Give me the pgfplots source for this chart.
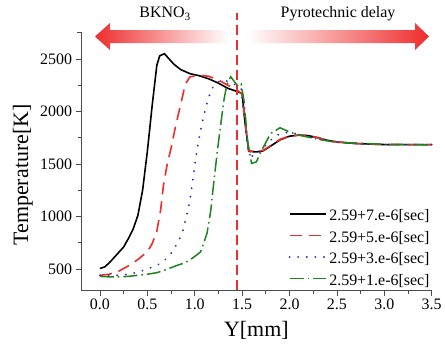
\documentclass[border=0pt]{standalone}
\usepackage{pgfplots}
\pgfplotsset{compat=1.18}
\usepackage{fontspec}
\setmainfont{Liberation Serif}
\definecolor{myred}{RGB}{238,45,45}
\definecolor{myblue}{RGB}{40,40,200}
\definecolor{mygreen}{RGB}{30,130,30}
\newcommand{\lstrut}{\rule[-4bp]{0pt}{19bp}}
\begin{document}
\begin{tikzpicture}[x=1bp,y=1bp]
\useasboundingbox (-81,-55) rectangle (364,290);
\begin{axis}[
  at={(0,0)}, anchor=south west,
  scale only axis, width=350.7bp, height=258bp,
  xmin=-0.2, xmax=3.5, ymin=300, ymax=2757,
  clip=false,
  axis x line*=bottom, axis y line*=left,
  axis line style={-, black!70, line width=0.8bp},
  xtick={0,0.5,...,3.5}, ytick={500,1000,...,2500},
  minor x tick num=1, minor y tick num=1,
  tick align=outside,
  major tick length=5.5bp, minor tick length=3.5bp,
  tick style={black!70, line width=0.8bp},
  xticklabel style={/pgf/number format/.cd,fixed,fixed zerofill,precision=1},
  /pgf/number format/assume math mode=true,
  /pgf/number format/1000 sep={},
  tick label style={font=\fontsize{16}{16}\selectfont},
  xlabel={Y[mm]}, ylabel={Temperature[K]},
  label style={font=\fontsize{22}{22}\selectfont},
  xlabel style={at={(axis description cs:0.5,-0.155)},anchor=center},
  ylabel style={at={(axis description cs:-0.166,0.446)},anchor=center},
  legend cell align=left,
  legend style={at={(1,0.005)}, anchor=south east, draw=none, fill=none,
    font=\fontsize{16}{16}\selectfont, row sep=1bp, inner sep=0pt},
  legend image code/.code={\draw[#1] (0cm,0cm) -- (1.3cm,0cm);},
]
\addplot[black, line width=1.6bp] coordinates {
(0,505) (0.05,520) (0.1,560) (0.15,610) (0.2,660) (0.25,710) (0.3,790) (0.35,880) (0.4,1010) (0.45,1250) (0.5,1620) (0.55,2050) (0.6,2440) (0.63,2530) (0.68,2550) (0.72,2510) (0.78,2450) (0.85,2400) (0.95,2360) (1.05,2340) (1.15,2310) (1.25,2270) (1.35,2220) (1.45,2190) (1.5,2170) (1.53,1900) (1.57,1620) (1.65,1615) (1.72,1625) (1.8,1670) (1.9,1730) (2.0,1765) (2.1,1775) (2.2,1770) (2.3,1750) (2.4,1725) (2.5,1710) (2.7,1695) (3.0,1685) (3.5,1685)};
\addlegendentry{\lstrut 2.59+7.e-6[sec]}
\addplot[myred, line width=1.6bp, dash pattern=on 12bp off 7bp] coordinates {
(0,440) (0.1,450) (0.2,480) (0.3,530) (0.4,590) (0.5,665) (0.55,740) (0.6,860) (0.64,1060) (0.67,1300) (0.71,1500) (0.75,1650) (0.8,1870) (0.85,2060) (0.9,2260) (0.95,2330) (1.05,2345) (1.15,2335) (1.25,2300) (1.35,2250) (1.45,2200) (1.5,2170) (1.53,1900) (1.57,1625) (1.65,1620) (1.72,1630) (1.8,1675) (1.9,1735) (2.0,1765) (2.1,1775) (2.2,1770) (2.3,1750) (2.4,1725) (2.5,1710) (2.7,1695) (3.0,1685) (3.5,1685)};
\addlegendentry{\lstrut 2.59+5.e-6[sec]}
\addplot[myblue, line width=2bp, line cap=round, dash pattern=on 0.1bp off 8.5bp] coordinates {
(0,440) (0.1,440) (0.2,440) (0.3,450) (0.4,470) (0.5,500) (0.6,535) (0.67,570) (0.75,650) (0.82,750) (0.87,850) (0.92,1030) (0.95,1160) (0.98,1350) (1.01,1550) (1.04,1720) (1.08,1900) (1.12,2050) (1.17,2200) (1.22,2270) (1.3,2300) (1.38,2280) (1.45,2240) (1.49,2220) (1.52,1950) (1.56,1650) (1.6,1575) (1.66,1590) (1.75,1680) (1.85,1770) (1.95,1800) (2.05,1790) (2.2,1760) (2.35,1730) (2.5,1710) (2.7,1695) (3.0,1685) (3.5,1685)};
\addlegendentry{\lstrut 2.59+3.e-6[sec]}
\addplot[mygreen, line width=1.5bp, dash pattern=on 14bp off 4bp on 1.5bp off 4bp] coordinates {
(0,430) (0.1,425) (0.2,425) (0.3,430) (0.4,440) (0.5,450) (0.6,465) (0.7,495) (0.8,530) (0.9,560) (0.97,600) (1.03,640) (1.06,662) (1.1,760) (1.13,843) (1.17,1062) (1.2,1319) (1.24,1633) (1.28,1919) (1.31,2120) (1.34,2260) (1.38,2330) (1.43,2270) (1.46,2240) (1.49,2260) (1.52,2100) (1.56,1700) (1.6,1505) (1.65,1520) (1.7,1620) (1.8,1790) (1.9,1845) (2.0,1805) (2.1,1775) (2.3,1735) (2.5,1705) (3.0,1688) (3.5,1682)};
\addlegendentry{\lstrut 2.59+1.e-6[sec]}
\addplot[myred, line width=2.2bp, dash pattern=on 10bp off 5bp, forget plot] coordinates {(1.45,300) (1.45,2938)};
\end{axis}
\draw[black!70, line width=0.8bp] (0,258) -- (-4,258);
\shade[left color=myred, right color=white] (14,253.5) -- (29,267) -- (29,260) -- (147,260) -- (147,247) -- (29,247) -- (29,240) -- cycle;
\shade[left color=white, right color=myred] (166,260) -- (334,260) -- (334,267) -- (348,253.5) -- (334,240) -- (334,247) -- (166,247) -- cycle;
\node[font=\fontsize{16}{16}\selectfont] at (84,276) {BKNO\textsubscript{3}};
\node[font=\fontsize{16}{16}\selectfont] at (257,276) {Pyrotechnic delay};
\end{tikzpicture}
\end{document}
